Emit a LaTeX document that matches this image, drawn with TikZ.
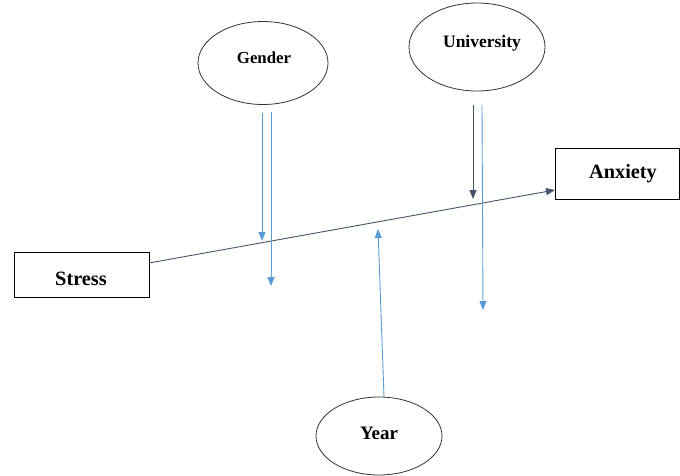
\documentclass[tikz,border=0pt]{standalone}
\usepackage{fontspec}
\setmainfont{Liberation Serif}
\usetikzlibrary{shapes.geometric,arrows.meta}
\definecolor{bluearr}{HTML}{5B9BD5}
\definecolor{darkarr}{HTML}{44546A}
\tikzset{
  x=1pt,y=-1pt,
  oval/.style={draw=black!80,line width=0.8pt,ellipse,inner sep=0pt},
  boxnode/.style={draw=black,line width=0.8pt,rectangle,inner sep=0pt},
  lbl/.style={inner sep=0pt},
  bluearrow/.style={draw=bluearr,line width=0.9pt,-{Triangle[length=9pt,width=7pt]}},
  darkarrow/.style={draw=darkarr,line width=0.9pt,-{Triangle[length=9pt,width=7pt]}},
}
\begin{document}
\begin{tikzpicture}
\useasboundingbox (0,0) rectangle (680,475);
% shapes
\node[oval,minimum width=130pt,minimum height=83pt] (gender) at (263,63) {};
\node[oval,minimum width=136pt,minimum height=88pt] (university) at (477,47) {};
\node[oval,minimum width=126pt,minimum height=78pt] (year) at (379,436) {};
\node[boxnode,minimum width=124pt,minimum height=51pt] (anxiety) at (617,173.5) {};
\node[boxnode,minimum width=135pt,minimum height=45pt] (stress) at (81.5,274.5) {};
% labels
\node[lbl,font=\bfseries\fontsize{16.8}{18}\selectfont] (gendert) at (264,58) {Gender};
\node[lbl,font=\bfseries\fontsize{17.5}{20}\selectfont] (universityt) at (482,43) {University};
\node[lbl,font=\bfseries\fontsize{19}{21}\selectfont] (yeart) at (379,433) {Year};
\node[lbl,font=\bfseries\fontsize{20.3}{22}\selectfont] (anxietyt) at (623,174) {Anxiety};
\node[lbl,font=\bfseries\fontsize{20.3}{22}\selectfont] (stresst) at (81,279) {Stress};
% connector endpoints
\coordinate (s1) at (149,263);
\coordinate (a1) at (555,190);
\coordinate (g1) at (262,113);
\coordinate (g1e) at (262,241);
\coordinate (g2) at (271,112);
\coordinate (g2e) at (271,286);
\coordinate (u1) at (473,105);
\coordinate (u1e) at (473,199);
\coordinate (u2) at (482,105);
\coordinate (u2e) at (483,310);
\coordinate (y1) at (384,397);
\coordinate (y1e) at (378,229);
% connectors
\draw[darkarrow] (s1) -- (a1);
\draw[bluearrow] (g1) -- (g1e);
\draw[bluearrow] (g2) -- (g2e);
\draw[darkarrow] (u1) -- (u1e);
\draw[bluearrow] (u2) -- (u2e);
\draw[bluearrow] (y1) -- (y1e);
\end{tikzpicture}
\end{document}
